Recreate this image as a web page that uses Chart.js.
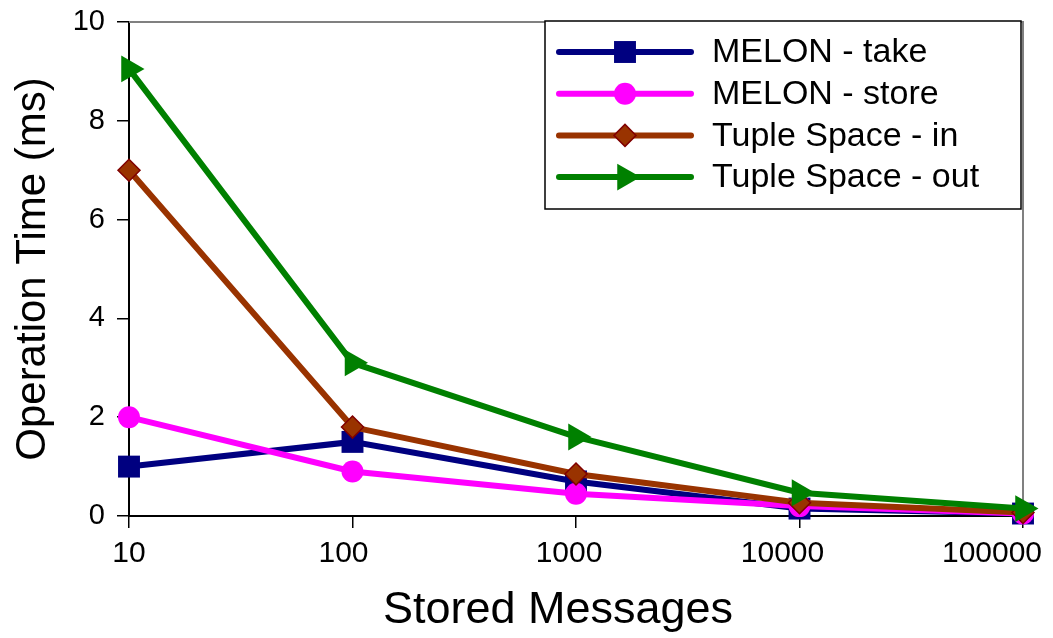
<!DOCTYPE html>
<html>
<head>
<meta charset="utf-8">
<script src="https://cdn.jsdelivr.net/npm/chart.js@4/dist/chart.umd.min.js"></script>
<style>
  html, body { margin: 0; padding: 0; background: #fff; }
  #wrap { width: 1053px; height: 638px; }
</style>
</head>
<body>
<div id="wrap"><canvas id="chart"></canvas></div>
<script>
// --- datos ---
const storedMessages = ['10', '100', '1000', '10000', '100000'];
const yTicks = [0, 2, 4, 6, 8, 10];

const melonTake  = [1.0, 1.5, 0.7, 0.15, 0.05];
const melonStore = [2.0, 0.9, 0.45, 0.2, 0.05];
const tupleIn    = [7.0, 1.8, 0.85, 0.27, 0.07];
const tupleOut   = [9.05, 3.1, 1.6, 0.47, 0.15];

const seriesNames = ['MELON - take', 'MELON - store', 'Tuple Space - in', 'Tuple Space - out'];

// desplazamiento de las etiquetas del eje x (como en el original)
const xLabelNudge = [0, -9, -7, -17, -31];
const xTitleShift = -18;

const FONT = '"Liberation Sans", Arial, sans-serif';

// leyenda dentro del area (dibujada a mano)
const legendBoxPlugin = {
    id: 'legendBox',
    afterDraw(chart) {
        const ctx = chart.ctx;
        const x0 = 545, y0 = 21, w = 476, h = 188;
        ctx.save();
        ctx.fillStyle = '#fff';
        ctx.fillRect(x0, y0, w, h);
        ctx.strokeStyle = '#000';
        ctx.lineWidth = 1.5;
        ctx.strokeRect(x0, y0, w, h);

        chart.data.datasets.forEach((ds, i) => {
            const cy = 52 + i * 41.7;
            ctx.strokeStyle = ds.borderColor;
            ctx.lineWidth = 6;
            ctx.lineCap = 'round';
            ctx.beginPath();
            ctx.moveTo(559, cy);
            ctx.lineTo(691, cy);
            ctx.stroke();

            ctx.fillStyle = ds.pointBackgroundColor;
            ctx.strokeStyle = ds.pointBorderColor;
            ctx.lineWidth = ds.pointBorderWidth;
            Chart.helpers.drawPoint(ctx, {
                pointStyle: ds.pointStyle,
                rotation: ds.pointRotation || 0,
                radius: ds.pointRadius,
                borderWidth: ds.pointBorderWidth
            }, 625, cy);

            ctx.fillStyle = '#000';
            ctx.font = '34px ' + FONT;
            ctx.textAlign = 'left';
            ctx.textBaseline = 'middle';
            ctx.fillText(ds.label, 712, cy + 1);
        });
        ctx.restore();
    }
};

// marco gris arriba y a la derecha
const frameBorderPlugin = {
    id: 'frameBorder',
    beforeDatasetsDraw(chart) {
        const a = chart.chartArea;
        const ctx = chart.ctx;
        ctx.save();
        ctx.strokeStyle = '#808080';
        ctx.lineWidth = 2;
        ctx.beginPath();
        ctx.moveTo(a.left, a.top);
        ctx.lineTo(a.right, a.top);
        ctx.lineTo(a.right, a.bottom);
        ctx.stroke();
        ctx.restore();
    }
};

// mueve las etiquetas y el titulo del eje x
const nudgeLabelsPlugin = {
    id: 'nudgeLabels',
    beforeDraw(chart) {
        const sx = chart.scales.x;
        const items = sx.getLabelItems(chart.chartArea);
        if (!items._nudged) {
            items.forEach((it, i) => { it.options.translation[0] += (xLabelNudge[i] || 0); });
            items._nudged = true;
        }
        if (!sx._titleShifted) {
            const orig = sx.drawTitle;
            sx.drawTitle = function () {
                this.ctx.save();
                this.ctx.translate(xTitleShift, 0);
                orig.apply(this, arguments);
                this.ctx.restore();
            };
            sx._titleShifted = true;
        }
    }
};

const ctx = document.getElementById('chart').getContext('2d');
const chart = new Chart(ctx, {
    type: 'line',
    data: {
        labels: storedMessages,
        datasets: [
            {
                label: seriesNames[0],
                data: melonTake,
                borderColor: '#000080',
                pointBackgroundColor: '#000080',
                pointBorderColor: '#000080',
                pointBorderWidth: 0,
                pointStyle: 'rect',
                pointRadius: 15.5,
                order: 4
            },
            {
                label: seriesNames[1],
                data: melonStore,
                borderColor: '#ff00ff',
                pointBackgroundColor: '#ff00ff',
                pointBorderColor: '#ff00ff',
                pointBorderWidth: 0,
                pointStyle: 'circle',
                pointRadius: 11,
                order: 3
            },
            {
                label: seriesNames[2],
                data: tupleIn,
                borderColor: '#993300',
                pointBackgroundColor: '#993300',
                pointBorderColor: '#800000',
                pointBorderWidth: 1.5,
                pointStyle: 'rectRot',
                pointRadius: 11,
                order: 2
            },
            {
                label: seriesNames[3],
                data: tupleOut,
                borderColor: '#008000',
                pointBackgroundColor: '#008000',
                pointBorderColor: '#008000',
                pointBorderWidth: 0,
                pointStyle: 'triangle',
                pointRotation: 90,
                pointRadius: 15.5,
                order: 1
            }
        ].map(ds => Object.assign(ds, {
            borderWidth: 6,
            tension: 0,
            fill: false,
            clip: false,
            pointHoverRadius: ds.pointRadius
        }))
    },
    options: {
        responsive: true,
        maintainAspectRatio: false,
        animation: false,
        events: [],
        layout: { padding: { top: 22, right: 30, bottom: 0, left: 0 } },
        plugins: {
            legend: { display: false },
            tooltip: { enabled: false }
        },
        scales: {
            x: {
                type: 'category',
                offset: false,
                grid: { drawOnChartArea: false, drawTicks: true, tickLength: 12, color: '#000', lineWidth: 1.5 },
                border: { display: true, color: '#000', width: 2 },
                ticks: { color: '#000', font: { family: FONT, size: 30 }, padding: 8, maxRotation: 0, autoSkip: false },
                title: {
                    display: true,
                    text: 'Stored Messages',
                    color: '#000',
                    font: { family: FONT, size: 45 },
                    padding: { top: 0, bottom: 0 }
                },
                afterFit(scale) {
                    scale.height = 122;
                    scale.paddingRight = 0;
                }
            },
            y: {
                min: 0,
                max: 10,
                afterBuildTicks(scale) {
                    scale.ticks = yTicks.map(v => ({ value: v }));
                },
                grid: { drawOnChartArea: false, drawTicks: true, tickLength: 12, color: '#000', lineWidth: 1.5 },
                border: { display: true, color: '#000', width: 2 },
                ticks: { color: '#000', font: { family: FONT, size: 29 }, padding: 12 },
                title: {
                    display: true,
                    text: 'Operation Time (ms)',
                    color: '#000',
                    font: { family: FONT, size: 42 },
                    padding: { top: 8, bottom: 0 }
                },
                afterFit(scale) {
                    scale.width = 129;
                    scale.paddingTop = 0;
                    scale.paddingBottom = 0;
                }
            }
        }
    },
    plugins: [frameBorderPlugin, nudgeLabelsPlugin, legendBoxPlugin]
});
</script>
</body>
</html>
